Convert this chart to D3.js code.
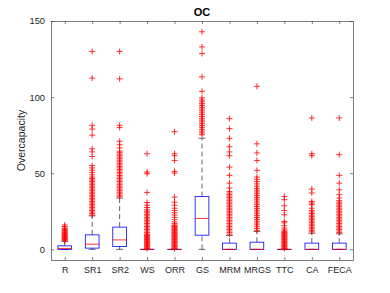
<!DOCTYPE html>
<html>
<head>
<meta charset="utf-8">
<script src="https://cdn.jsdelivr.net/npm/d3@7"></script>
<style>
  body { margin: 0; background: #fff; }
  text { font-family: "Liberation Sans", Arial, sans-serif; }
</style>
</head>
<body>
<div id="viz"></div>
<script>
var margin = {top: 21, right: 37, bottom: 33, left: 51},
    width = 390,
    height = 293;

// box statistics
var categories = ["R", "SR1", "SR2", "WS", "ORR", "GS", "MRM", "MRGS", "TTC", "CA", "FECA"];
var q1      = [0,   0.8, 1.8,  0, 0, 9.3,  0,   0,    0, 0,    0];
var medians = [0.6, 3.4, 6.2,  0, 0, 20.3, 0,   0,    0, 0,    0];
var q3      = [2.3, 9.5, 14.6, 0, 0, 34.7, 4.1, 4.7,  0, 4.1,  4.1];
var lowerW  = [0,   0,   0,    0, 0, 0,    0,   0,    0, 0,    0];
var upperW  = [5.2, 22,  33.7, 0, 0, 73,   9.1, 11.7, 0, 10.6, 10.2];

var outliers = [
  [5.6, 6, 6.4, 6.8, 7.2, 7.6, 8, 8.4, 8.8, 9.2, 9.6, 10, 10.5, 11, 11.5, 12, 12.5, 13, 13.5, 14, 15, 16],
  [22.5, 23.5, 24.5, 25.5, 26.5, 27.5, 28.5, 29.5, 30.5, 31.5, 32.5, 33.5, 34.5, 35.5, 36.5, 37.5, 38.5, 39.5,
   40.5, 41.5, 42.5, 43.5, 44.5, 45.5, 46.5, 47.5, 49, 50.5, 52, 53.5, 55, 61, 64, 66, 75, 79, 81.5, 112.5, 130],
  [34.5, 35.5, 36.5, 37.5, 38.5, 39.5, 40.5, 41.5, 42.5, 43.5, 44.5, 45.5, 46.5, 47.5, 48.5, 49.5, 50.5, 51.5,
   52.5, 53.5, 54.5, 55.5, 56.5, 57.5, 58.5, 59.5, 60.5, 61.5, 62.5, 63.5, 64.5, 66.6, 68.7, 71, 80, 81.5, 112, 130],
  [0.5, 1, 1.5, 2, 2.5, 3, 3.5, 4, 4.5, 5, 5.5, 6, 6.5, 7, 7.5, 8, 8.5, 9, 9.5, 10, 11, 12, 13, 14, 15, 16, 17,
   18, 19, 20, 21, 22, 23, 24, 25, 26, 27.5, 29, 30.8, 37.4, 49.7, 50.8, 62.8],
  [0.5, 1, 1.5, 2, 2.5, 3, 3.5, 4, 4.5, 5, 5.5, 6, 6.5, 7, 7.5, 8, 8.5, 9, 9.5, 10, 10.5, 11, 11.5, 12, 12.5, 13,
   13.5, 14, 14.5, 15, 15.5, 16, 17, 18, 19.5, 21, 22.5, 24, 25.5, 27, 29, 31, 34.3, 50.1, 51.2, 58.4, 61.5, 62.8, 77.3],
  [75.3, 76.5, 77.7, 78.9, 80.1, 81.3, 82.5, 83.7, 84.9, 86.1, 87.3, 88.5, 89.7, 90.9, 92.1, 93.3, 94.5, 95.7,
   96.9, 98.1, 99.5, 103.8, 113.3, 128.6, 133, 142.9],
  [10, 11, 12, 13, 14, 15, 16, 17, 18, 19, 20, 21, 22, 23, 24, 25, 26, 27, 28, 29, 30, 31, 32, 33, 34, 35, 36,
   37, 38, 40.3, 43.5, 48.6, 54, 61.5, 64, 67.4, 72.9, 79.3, 85.9],
  [12.5, 13.7, 14.9, 16.1, 17.3, 18.5, 19.7, 20.9, 22.1, 23.3, 24.5, 25.7, 26.9, 28.1, 29.3, 30.5, 31.7, 32.9,
   34.1, 35.3, 36.5, 37.7, 38.9, 40.1, 41.5, 43, 44.5, 46, 47.5, 51.9, 58.4, 63.3, 69.3, 107.1],
  [0.5, 1, 1.5, 2, 2.5, 3, 3.5, 4, 4.5, 5, 5.5, 6, 6.5, 7, 7.5, 8, 8.5, 9, 9.5, 10, 10.5, 11, 11.5, 12, 12.8,
   14, 15.5, 17.4, 18.3, 22.7, 25.5, 28.6, 32.6, 34.7],
  [11.5, 12.5, 13.5, 14.5, 15.5, 16.5, 17.5, 18.5, 19.5, 20.5, 21.5, 22.5, 23.5, 24.5, 25.5, 27, 29.3, 30.4,
   31.5, 37, 39.6, 61.5, 62.8, 86.3],
  [11, 12, 13, 14, 15, 16, 17, 18, 19, 20, 21, 22, 23, 24, 25, 26, 27, 28, 29, 30, 31, 32, 33.7, 35.9, 39.1,
   43.5, 48.6, 62.2, 86.3]
];

var yTicks = [0, 50, 100, 150];

var svg = d3.select('#viz').append('svg')
  .attr('width', width)
  .attr('height', height)
  .style('background', '#fff');

var x = d3.scaleLinear()
  .domain([0.5, categories.length + 0.5])
  .range([margin.left, width - margin.right]);

var y = d3.scaleLinear()
  .domain([-7, 150])
  .range([height - margin.bottom, margin.top]);

var boxW = (x(2) - x(1)) * 0.5;
var axisColor = '#262626';

// axes (MATLAB style: ticks inward, box on)
svg.append('g')
  .attr('transform', `translate(0,${height - margin.bottom})`)
  .call(d3.axisBottom(x).tickValues(d3.range(1, categories.length + 1))
    .tickFormat((d, i) => categories[i]).tickSizeInner(-3).tickSizeOuter(0).tickPadding(7))
  .call(g => g.selectAll('text').attr('font-size', 9).attr('fill', axisColor));

svg.append('g')
  .attr('transform', `translate(0,${margin.top})`)
  .call(d3.axisTop(x).tickValues(d3.range(1, categories.length + 1))
    .tickFormat('').tickSizeInner(-3).tickSizeOuter(0));

svg.append('g')
  .attr('transform', `translate(${margin.left},0)`)
  .call(d3.axisLeft(y).tickValues(yTicks).tickSizeInner(-3).tickSizeOuter(0).tickPadding(6))
  .call(g => g.selectAll('text').attr('font-size', 9.3).attr('fill', axisColor));

svg.append('g')
  .attr('transform', `translate(${width - margin.right},0)`)
  .call(d3.axisRight(y).tickValues(yTicks).tickFormat('').tickSizeInner(-3).tickSizeOuter(0));

svg.selectAll('.domain, .tick line')
  .attr('stroke', axisColor)
  .attr('stroke-width', 0.6);

// boxes, whiskers, outliers
var boxes = svg.append('g');
categories.forEach(function(c, i) {
  var cx = x(i + 1);
  var g = boxes.append('g');

  g.append('line')
    .attr('x1', cx).attr('x2', cx)
    .attr('y1', y(q3[i])).attr('y2', y(upperW[i]))
    .attr('stroke', '#000').attr('stroke-width', 0.6).attr('stroke-dasharray', '5,3');
  g.append('line')
    .attr('x1', cx).attr('x2', cx)
    .attr('y1', y(lowerW[i])).attr('y2', y(q1[i]))
    .attr('stroke', '#000').attr('stroke-width', 0.6).attr('stroke-dasharray', '5,3');

  [lowerW[i], upperW[i]].forEach(function(v) {
    g.append('line')
      .attr('x1', cx - boxW / 4).attr('x2', cx + boxW / 4)
      .attr('y1', y(v)).attr('y2', y(v))
      .attr('stroke', '#000').attr('stroke-width', 0.6);
  });

  g.append('rect')
    .attr('x', cx - boxW / 2)
    .attr('y', y(q3[i]))
    .attr('width', boxW)
    .attr('height', Math.max(0.1, y(q1[i]) - y(q3[i])))
    .attr('fill', 'none')
    .attr('stroke', '#0000ff').attr('stroke-width', 0.8);

  g.append('line')
    .attr('x1', cx - boxW / 2).attr('x2', cx + boxW / 2)
    .attr('y1', y(medians[i])).attr('y2', y(medians[i]))
    .attr('stroke', '#ff0000').attr('stroke-width', 0.8);

  // outliers as '+'
  g.selectAll('path.out')
    .data(outliers[i])
    .join('path')
    .attr('class', 'out')
    .attr('d', d => `M${cx - 3},${y(d)}H${cx + 3}M${cx},${y(d) - 3}V${y(d) + 3}`)
    .attr('stroke', '#ff0000').attr('stroke-width', 0.8).attr('fill', 'none');
});

// title and label
svg.append('text')
  .attr('x', (margin.left + width - margin.right) / 2)
  .attr('y', 16)
  .attr('text-anchor', 'middle')
  .attr('font-size', 11)
  .attr('font-weight', 'bold')
  .text('OC');

svg.append('text')
  .attr('transform', `translate(24.5,${(margin.top + height - margin.bottom) / 2}) rotate(-90)`)
  .attr('text-anchor', 'middle')
  .attr('font-size', 10.5)
  .attr('fill', axisColor)
  .text('Overcapacity');
</script>
</body>
</html>
